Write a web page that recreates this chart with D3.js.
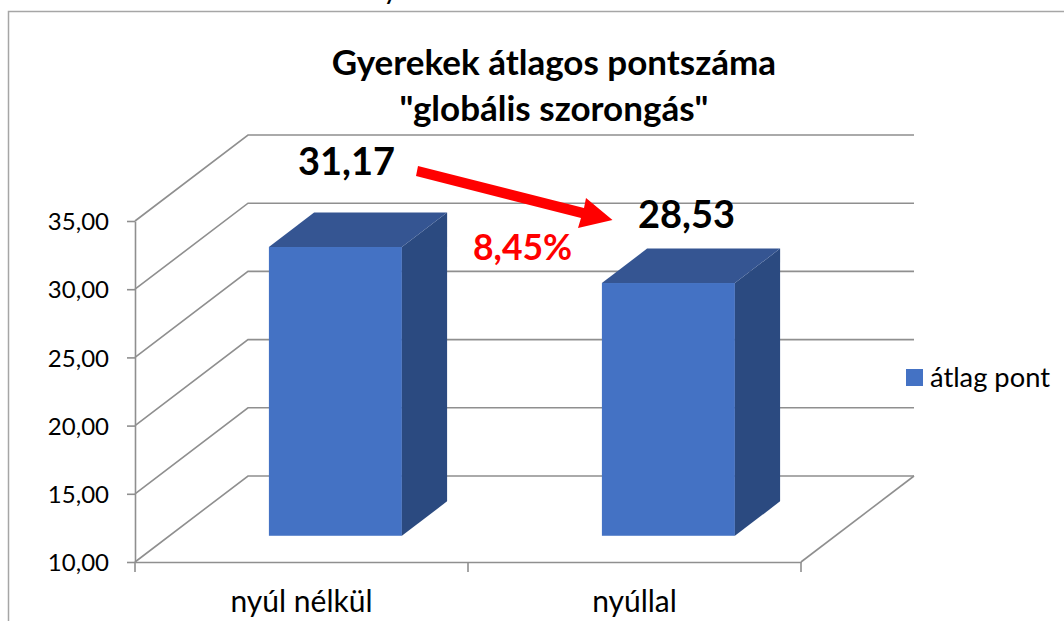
<!DOCTYPE html>
<html><head><meta charset="utf-8">
<script src="https://cdn.jsdelivr.net/npm/d3@7/dist/d3.min.js"></script>
<style>html,body{margin:0;padding:0;background:#fff}svg{display:block}text{font-family:Lato,"Open Sans",sans-serif}</style>
</head><body><svg id="c" width="1064" height="621"></svg>
<script>
const categories = ["nyúl nélkül", "nyúllal"];
const values = [31.17, 28.53];
const valueLabels = ["31,17", "28,53"];
const yTicks = [10, 15, 20, 25, 30, 35];
const seriesName = "átlag pont";
const titleLines = ["Gyerekek átlagos pontszáma", "\"globális szorongás\""];
const changeLabel = "8,45%";

const svg = d3.select("#c");
const pLeft = 135, pRight = 801, pBottom = 562, pTop = 221;
const wallDx = 113, wallDy = -86;
const y = d3.scaleLinear().domain([10, 35]).range([pBottom, pTop]);
const x = d3.scaleBand().domain(categories).range([pLeft, pRight]);
const fmt = d => d3.format(".2f")(d).replace(".", ",");
const grey = "#8f8f8f", blue = "#4472c4", topCol = "#355592", sideCol = "#2b4a80";

// chart frame
svg.append("path").attr("d", "M8.5 621V11.5H1064").attr("fill", "none").attr("stroke", "#a6a6a6").attr("stroke-width", 1.5);
// clipped text fragment above the frame
svg.append("text").attr("x", 383).attr("y", -1).attr("font-size", 30).attr("fill", "#000").text("y");

// walls and gridlines
const grid = svg.append("g").attr("fill", "none").attr("stroke", grey).attr("stroke-width", 1.6);
yTicks.forEach(t => {
  grid.append("path").attr("d", d3.line()([[pLeft, y(t)], [pLeft + wallDx, y(t) + wallDy], [pLeft + wallDx + pRight - pLeft, y(t) + wallDy]]));
});
grid.append("path").attr("d", d3.line()([[pLeft + wallDx + pRight - pLeft, pBottom + wallDy], [pRight, pBottom]]));

// axes
const yAxis = d3.axisLeft(y).tickValues(yTicks).tickFormat(fmt).tickSize(8).tickSizeOuter(0);
const gy = svg.append("g").attr("transform", `translate(${pLeft},0)`).call(yAxis);
const xAxis = d3.axisBottom(x).tickSize(0);
const gx = svg.append("g").attr("transform", `translate(0,${pBottom})`).call(xAxis);
gx.selectAll(".tick line").remove();
gx.selectAll(".boundary").data([pLeft, x(categories[1]), pRight]).join("line").attr("class", "boundary")
  .attr("x1", d => d).attr("x2", d => d).attr("y1", 0).attr("y2", 10);
svg.selectAll(".domain,.boundary,.tick line").attr("stroke", grey).attr("stroke-width", 1.6);
gy.selectAll("text").attr("font-size", 24).attr("fill", "#000").attr("x", -26).attr("dy", "0.36em");
gx.selectAll("text").attr("font-size", 30).attr("fill", "#000").attr("y", 50).attr("dy", 0);
gy.select(".domain").attr("fill", "none"); gx.select(".domain").attr("fill", "none");

// 3D bars
const barW = 133, offX = 0.3 * wallDx, offY = 0.305 * wallDy, depX = 0.4 * wallDx, depY = 0.4 * wallDy;
const bars = svg.append("g").selectAll("g").data(values).join("g");
const cx = i => x(categories[i]) + x.bandwidth() / 2 + offX;
bars.each(function (v, i) {
  const g = d3.select(this);
  const x0 = cx(i) - barW / 2, x1 = x0 + barW, yb = y(10) + offY, yt = yb - (y(10) - y(v));
  g.append("rect").attr("x", x0).attr("y", yt).attr("width", barW).attr("height", yb - yt).attr("fill", blue);
  g.append("path").attr("fill", sideCol).attr("d", d3.line()([[x1, yt], [x1 + depX, yt + depY], [x1 + depX, yb + depY], [x1, yb]]));
  g.append("path").attr("fill", topCol).attr("d", d3.line()([[x0, yt], [x0 + depX, yt + depY], [x1 + depX, yt + depY], [x1, yt]]));
});

// title
svg.append("text").attr("x", 554).attr("y", 75).attr("text-anchor", "middle").attr("font-size", 35).attr("font-weight", 700).text(titleLines[0]);
svg.append("text").attr("x", 554).attr("y", 121).attr("text-anchor", "middle").attr("font-size", 35).attr("font-weight", 700).text(titleLines[1]);

// annotations
svg.append("text").attr("x", 298).attr("y", 175).attr("font-size", 38).attr("font-weight", 700).text(valueLabels[0]);
svg.append("text").attr("x", 638).attr("y", 228).attr("font-size", 38).attr("font-weight", 700).text(valueLabels[1]);
svg.append("text").attr("x", 473).attr("y", 260).attr("font-size", 35.5).attr("font-weight", 700).attr("fill", "#ff0000").text(changeLabel);
svg.append("path").attr("fill", "#ff0000").attr("d", "M418 166L584 208L586 198L612.5 220L578 228L581 218L416 176Z");

// legend
svg.append("rect").attr("x", 906).attr("y", 369).attr("width", 17).attr("height", 17).attr("fill", blue);
svg.append("text").attr("x", 930).attr("y", 387).attr("font-size", 27.3).text(seriesName);
</script></body></html>
